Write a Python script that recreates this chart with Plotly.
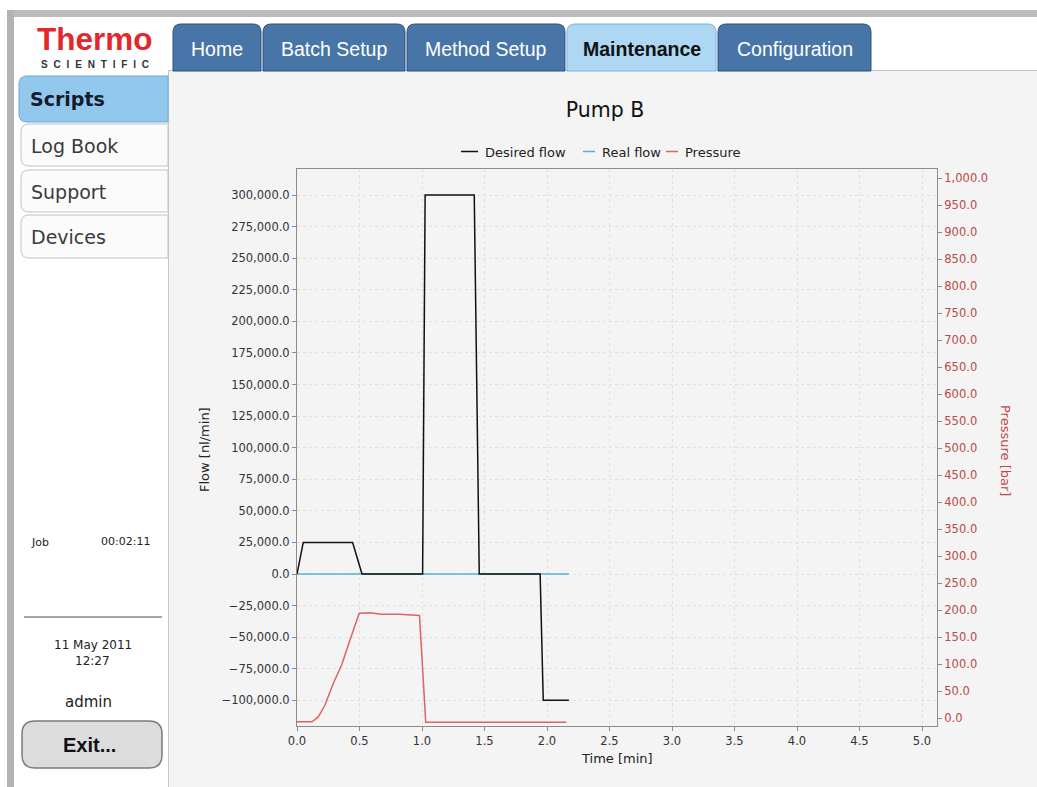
import plotly.graph_objects as go

W, H = 1037, 787

# ---------------- data ----------------
time_desired = [0.0, 0.05, 0.445, 0.52, 1.005, 1.025, 1.418, 1.458, 1.945, 1.97, 2.175]
desired_flow = [0, 25000, 25000, 0, 0, 300000, 300000, 0, 0, -100000, -100000]

time_real = [0.0, 2.175]
real_flow = [0, 0]

time_pressure = [0.0, 0.12, 0.17, 0.224, 0.29, 0.357, 0.423, 0.498, 0.583, 0.676, 0.82, 0.98, 1.03, 2.155]
pressure = [-7, -7, 2, 24, 64, 98, 144, 194, 195, 192, 192, 190, -8, -8]

flow_ticks = list(range(-100000, 300001, 25000))
pressure_ticks = list(range(0, 1001, 50))
time_ticks = [0.0, 0.5, 1.0, 1.5, 2.0, 2.5, 3.0, 3.5, 4.0, 4.5, 5.0]

series_names = ["Desired flow", "Real flow", "Pressure"]
series_colors = ["#111111", "#55b4cb", "#e06262"]

tab_labels = ["Home", "Batch Setup", "Method Setup", "Maintenance", "Configuration"]
side_labels = ["Scripts", "Log Book", "Support", "Devices"]


def X(p):
    return p / W


def Y(p):
    return 1 - p / H


def rpath(x0, y0, x1, y1, r, corners="tl tr br bl"):
    c = corners.split()

    def P(x, y):
        return f"{X(x):.5f},{Y(y):.5f}"
    s = "M " + (P(x0 + r, y0) if "tl" in c else P(x0, y0))
    if "tr" in c:
        s += " L " + P(x1 - r, y0) + " Q " + P(x1, y0) + " " + P(x1, y0 + r)
    else:
        s += " L " + P(x1, y0)
    if "br" in c:
        s += " L " + P(x1, y1 - r) + " Q " + P(x1, y1) + " " + P(x1 - r, y1)
    else:
        s += " L " + P(x1, y1)
    if "bl" in c:
        s += " L " + P(x0 + r, y1) + " Q " + P(x0, y1) + " " + P(x0, y1 - r)
    else:
        s += " L " + P(x0, y1)
    if "tl" in c:
        s += " L " + P(x0, y0 + r) + " Q " + P(x0, y0) + " " + P(x0 + r, y0)
    else:
        s += " L " + P(x0, y0)
    return s + " Z"


shapes = []
ann = []


def rect(x0, y0, x1, y1, fill, line=None, lw=0):
    shapes.append(dict(type="rect", xref="paper", yref="paper", layer="below",
                       x0=X(x0), x1=X(x1), y0=Y(y1), y1=Y(y0), fillcolor=fill,
                       line=dict(color=line or fill, width=lw)))


def rr(x0, y0, x1, y1, r, fill, line, lw=1, corners="tl tr br bl"):
    shapes.append(dict(type="path", xref="paper", yref="paper", layer="below",
                       path=rpath(x0, y0, x1, y1, r, corners), fillcolor=fill,
                       line=dict(color=line, width=lw)))


def hline(x0, x1, y, color, lw=1, layer="below"):
    shapes.append(dict(type="line", xref="paper", yref="paper", layer=layer,
                       x0=X(x0), x1=X(x1), y0=Y(y), y1=Y(y), line=dict(color=color, width=lw)))


def vline(x, y0, y1, color, lw=1):
    shapes.append(dict(type="line", xref="paper", yref="paper", layer="below",
                       x0=X(x), x1=X(x), y0=Y(y0), y1=Y(y1), line=dict(color=color, width=lw)))


def text(t, x, y, size, color="#222", family="DejaVu Sans", xa="center", ya="middle", angle=0):
    ann.append(dict(text=t, x=X(x), y=Y(y), xref="paper", yref="paper", showarrow=False,
                    xanchor=xa, yanchor=ya, textangle=angle,
                    font=dict(size=size, color=color, family=family)))


# ---------------- page chrome ----------------
rect(7, 10, W, 17, "#bcbcbc")
rect(7, 10, 14, H, "#b3b3b3")
rect(169, 70, W, H, "#f4f4f4")
hline(169, W, 70.5, "#c4c4c4")
vline(168.5, 70, H, "#c8c8c8")

# tabs
tab_x = [(173, 261), (263, 405), (407, 565), (567, 716), (718, 871)]
for (a, b), lab in zip(tab_x, tab_labels):
    active = lab == "Maintenance"
    rr(a, 24, b, 71, 8, "#add7f2" if active else "#4875a7",
       "#7fb2d8" if active else "#2c5180", 1, "tl tr")
    text(f"<b>{lab}</b>" if active else lab, (a + b) / 2, 49, 19.5,
         "#111" if active else "#ffffff", "Liberation Sans")

# logo
text("<b>Thermo</b>", 95, 39, 31.5, "#e2282c", "Liberation Sans")
text("<b>" + "\u2002\u200a".join("SCIENTIFIC") + "</b>", 95, 64, 10, "#333", "Liberation Sans")

# side buttons
side_y = [(76, 122), (124, 166), (170, 212), (215, 258)]
for (a, b), lab in zip(side_y, side_labels):
    if lab == "Scripts":
        rr(19, a, 168, b, 8, "#93c8ee", "#6ea7d4", 1, "tl bl")
        text(f"<b>{lab}</b>", 28, (a + b) / 2, 19, "#141c2c", "DejaVu Sans", xa="left")
    else:
        rr(21, a, 168, b, 8, "#fbfbfb", "#c2c2c2", 1, "tl bl")
        text(lab, 29, (a + b) / 2 + 1, 19, "#3a3a3a", "DejaVu Sans", xa="left")

text("Job", 29, 542, 11, "#222", "DejaVu Sans", xa="left")
text("00:02:11", 152, 541, 11, "#222", "DejaVu Sans", xa="right")
hline(24, 162, 617, "#8a8a8a", 1.5)
text("11 May 2011", 93, 645, 12, "#222", "DejaVu Sans")
text("12:27", 92, 661, 12, "#222", "DejaVu Sans")
text("admin", 88, 702, 15, "#222", "DejaVu Sans")
rr(22, 721, 162, 768, 13, "#dcdcdc", "#7a7a7a", 1.5)
text("<b>Exit...</b>", 89, 745, 20, "#111", "Liberation Sans")

# legend (drawn as key lines + labels)
legend_line_x = [(461, 478), (583, 595), (666, 678)]
legend_text_x = [483, 600, 683]
for (a, b), tx, nm, col in zip(legend_line_x, legend_text_x, series_names, series_colors):
    hline(a, b, 151.5, col, 1.5, layer="above")
    text(nm, tx, 152, 13, "#222", "DejaVu Sans", xa="left")

# axis titles
text("Flow [nl/min]", 205, 450, 13, "#222", "DejaVu Sans", angle=-90)
text("Time [min]", 617, 758, 13, "#222", "DejaVu Sans")
text("Pressure [bar]", 1005, 450, 13, "#c04848", "DejaVu Sans", angle=90)

# ---------------- chart ----------------
fig = go.Figure()
fig.add_trace(go.Scatter(x=time_real, y=real_flow, name=series_names[1], mode="lines",
                         line=dict(color=series_colors[1], width=1.5)))
fig.add_trace(go.Scatter(x=time_desired, y=desired_flow, name=series_names[0], mode="lines",
                         line=dict(color=series_colors[0], width=1.5)))
fig.add_trace(go.Scatter(x=time_pressure, y=pressure, name=series_names[2], mode="lines", yaxis="y2",
                         line=dict(color=series_colors[2], width=1.5)))

tickfont = dict(family="DejaVu Sans", size=11.5, color="#333")
grid = "#e0e0e0"
fig.update_layout(
    width=W, height=H, autosize=False, showlegend=False,
    margin=dict(l=0, r=0, t=0, b=0, pad=0),
    paper_bgcolor="#ffffff", plot_bgcolor="#f6f6f6",
    shapes=shapes, annotations=ann,
    title=dict(text="Pump B", x=X(605), y=Y(110), xref="paper", yref="paper",
               xanchor="center", yanchor="middle",
               font=dict(family="DejaVu Sans", size=20.5, color="#111")),
    xaxis=dict(domain=[X(297), X(937)], range=[0, 5.12], tickvals=time_ticks, tickformat=".1f",
               showgrid=True, gridcolor=grid, griddash="dot", gridwidth=1,
               showline=True, linecolor="#8c8c8c", linewidth=1, mirror=True,
               ticks="outside", ticklen=4, tickcolor="#8c8c8c", tickfont=tickfont,
               zeroline=False, automargin=False),
    yaxis=dict(domain=[Y(726), Y(169)], range=[-120300, 320600], tickvals=flow_ticks,
               tickformat=",.1f", showgrid=True, gridcolor=grid, griddash="dot",
               showline=True, linecolor="#8c8c8c", linewidth=1,
               ticks="outside", ticklen=4, tickcolor="#8c8c8c", tickfont=tickfont,
               zeroline=False, automargin=False),
    yaxis2=dict(overlaying="y", side="right", range=[-14.8, 1016.7], tickvals=pressure_ticks,
                tickformat=",.1f", showgrid=False, showline=True, linecolor="#8c8c8c",
                linewidth=1, ticks="outside", ticklen=4, tickcolor="#8c8c8c",
                tickfont=dict(family="DejaVu Sans", size=11.5, color="#b84a4a"),
                zeroline=False, automargin=False),
)

fig.write_html("out.html", config={"displayModeBar": False},
               post_script="document.body.style.margin='0px';document.body.style.overflow='hidden';")
